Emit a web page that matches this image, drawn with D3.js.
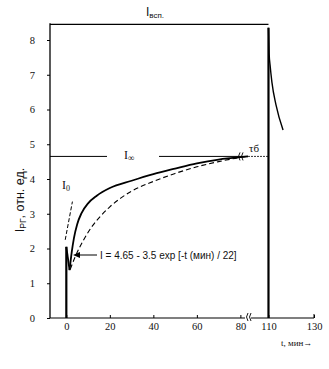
<!DOCTYPE html>
<html><head><meta charset="utf-8">
<script src="https://cdn.jsdelivr.net/npm/d3@7"></script>
<style>
body{margin:0;background:#fff;}
svg text{fill:#111;}
</style></head>
<body><svg id="c" width="329" height="369"></svg>
<script>
// ---- data ----
const yTicks = [0,1,2,3,4,5,6,7,8];
const xTicks = [0,20,40,60,80,110,130];
const iInf = 4.65;
const iTop = 8.45;
// measured curve (solid)
const solidT = [0,1.5,2.5,3.5,5,7,10,14,20,30,40,50,60,70,80,84];
const solidI = [2.05,1.38,1.9,2.3,2.7,3.02,3.3,3.52,3.74,3.95,4.14,4.3,4.45,4.56,4.63,4.65];
// fitted curve (dashed)
const fitT = [1.8,4,8,12,16,20,25,30,40,50,60,70,80,84];
const fitI = [1.4,1.75,2.25,2.65,2.95,3.2,3.45,3.65,3.93,4.16,4.35,4.5,4.62,4.65];
// initial tangent I0
const tanT = [-0.5,2.8];
const tanI = [2.25,3.35];
// flash decay after t = 110
const flashT = [110,110.3,110.7,111.5,113.3,116.4];
const flashI = [8.35,7.6,7.28,6.79,6.13,5.41];
const startI = 2.05;

const svg = d3.select("#c");
const x = d3.scaleLinear().domain([-7.5,83.5,101,130]).range([50,248,248,314]);
const y = d3.scaleLinear().domain([0,8]).range([318,40]);
const serif = "Liberation Serif";

// y axis
const ya = svg.append("g").attr("transform","translate(50,0)")
  .call(d3.axisLeft(y).tickValues(yTicks).tickSize(3).tickPadding(12).tickFormat(d3.format("d")));
ya.select(".domain").remove();
ya.selectAll("text").attr("font-family",serif).attr("font-size",10.5);
svg.append("line").attr("x1",50).attr("x2",50).attr("y1",y(0)).attr("y2",y(iTop)-1).attr("stroke","#000").attr("stroke-width",1.3);

// x axis
const xa = svg.append("g").attr("transform",`translate(0,${y(0)})`)
  .call(d3.axisBottom(x).tickValues(xTicks).tickSizeInner(-3).tickSizeOuter(0).tickPadding(5));
xa.select(".domain").remove();
xa.selectAll("text").attr("font-family",serif).attr("font-size",10.5);
svg.append("line").attr("x1",50).attr("x2",x(130)).attr("y1",y(0)).attr("y2",y(0)).attr("stroke","#000").attr("stroke-width",1.2);
svg.append("line").attr("x1",x(130)).attr("x2",x(130)).attr("y1",y(0)).attr("y2",y(0)-4).attr("stroke","#000");

// break marks
function brk(cx, cy){
  [-1.5,1.5].forEach(o=>{
    svg.append("path").attr("d",`M${cx+o+1.5},${cy-4} Q${cx+o-1.5},${cy} ${cx+o+1.5},${cy+4}`)
      .attr("fill","none").attr("stroke","#000").attr("stroke-width",0.9);
  });
}
svg.append("rect").attr("x",x(83.5)-3).attr("y",y(0)-5).attr("width",6).attr("height",8).attr("fill","#fff");
brk(x(83.5), y(0)-1);

// top line and title
svg.append("line").attr("x1",50).attr("x2",x(110)).attr("y1",y(iTop)).attr("y2",y(iTop)).attr("stroke","#000").attr("stroke-width",1.3);
const tt = svg.append("text").attr("x",146).attr("y",16).attr("font-family","Liberation Sans").attr("font-size",12);
tt.append("tspan").text("I");
tt.append("tspan").attr("font-size",8).attr("dy",2).text("всп.");

// I∞ line
const yInf = y(iInf);
svg.append("line").attr("x1",50).attr("x2",107).attr("y1",yInf).attr("y2",yInf).attr("stroke","#000").attr("stroke-width",1);
svg.append("line").attr("x1",159).attr("x2",x(84)).attr("y1",yInf).attr("y2",yInf).attr("stroke","#000").attr("stroke-width",1);
svg.append("line").attr("x1",x(84)).attr("x2",x(110)).attr("y1",yInf).attr("y2",yInf).attr("stroke","#000").attr("stroke-width",0.8).attr("stroke-dasharray","2,1");
const li = svg.append("text").attr("x",124).attr("y",yInf+3).attr("font-family",serif).attr("font-size",12);
li.append("tspan").text("I");
li.append("tspan").attr("font-size",9).attr("dy",2).text("∞");
brk(x(83.5)-8, yInf);
svg.append("text").attr("x",x(83.5)+1).attr("y",yInf-4).attr("font-family",serif).attr("font-size",11).text("τб");

// vertical start line at t=0
svg.append("line").attr("x1",x(0)).attr("x2",x(0)).attr("y1",y(0)).attr("y2",y(startI)).attr("stroke","#000").attr("stroke-width",2.2);

const line = d3.line().x(d=>x(d[0])).y(d=>y(d[1])).curve(d3.curveMonotoneX);
const lineLin = d3.line().x(d=>x(d[0])).y(d=>y(d[1]));

// solid measured curve
const sData = solidT.map((t,i)=>[t,solidI[i]]);
svg.append("path").attr("d",lineLin(sData.slice(0,2))).attr("fill","none").attr("stroke","#000").attr("stroke-width",1.8);
svg.append("path").attr("d",line(sData.slice(1))).attr("fill","none").attr("stroke","#000").attr("stroke-width",1.8);

// dashed fit
svg.append("path").attr("d",line(fitT.map((t,i)=>[t,fitI[i]]))).attr("fill","none").attr("stroke","#000").attr("stroke-width",1.1).attr("stroke-dasharray","5,3");

// I0 tangent
svg.append("path").attr("d",lineLin(tanT.map((t,i)=>[t,tanI[i]]))).attr("fill","none").attr("stroke","#000").attr("stroke-width",1).attr("stroke-dasharray","4,2");
const l0 = svg.append("text").attr("x",62).attr("y",189).attr("font-family",serif).attr("font-size",12);
l0.append("tspan").text("I");
l0.append("tspan").attr("font-size",8).attr("dy",2).text("0");

// flash at t = 110
svg.append("line").attr("x1",x(110)).attr("x2",x(110)).attr("y1",y(0)).attr("y2",y(flashI[0])).attr("stroke","#000").attr("stroke-width",2.2);
svg.append("path").attr("d",line(flashT.map((t,i)=>[t,flashI[i]]))).attr("fill","none").attr("stroke","#000").attr("stroke-width",1.4);

// formula annotation with arrow
svg.append("line").attr("x1",97).attr("x2",76).attr("y1",255).attr("y2",255).attr("stroke","#000").attr("stroke-width",1);
svg.append("path").attr("d","M73,255 L80,252 L80,258 Z").attr("fill","#000");
svg.append("text").attr("x",100).attr("y",259).attr("font-family","Liberation Sans").attr("font-size",10).text("I = 4.65 - 3.5 exp [-t (мин) / 22]");

// y axis title
const yt = svg.append("text").attr("transform","translate(24,200) rotate(-90)").attr("text-anchor","middle").attr("font-family","Liberation Sans").attr("font-size",12.5);
yt.append("tspan").text("I");
yt.append("tspan").attr("font-size",8.5).attr("dy",2).text("РГ");
yt.append("tspan").attr("dy",-2).text(", отн. ед.");

// x axis title
svg.append("text").attr("x",281).attr("y",346).attr("font-family",serif).attr("font-size",9).text("t, мин→");
</script></body></html>
